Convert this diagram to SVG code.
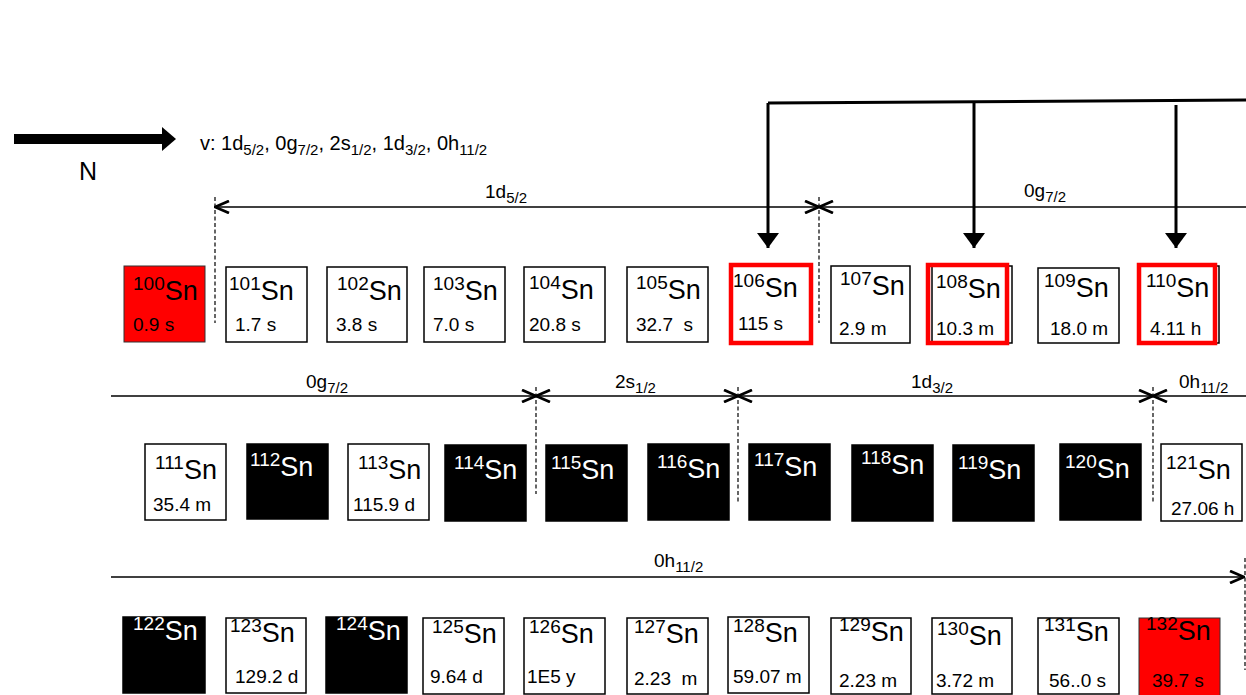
<svg xmlns="http://www.w3.org/2000/svg" width="1246" height="695" viewBox="0 0 1246 695">
<style>
text{font-family:"Liberation Sans",Arial,sans-serif;fill:#000}
.box{fill:#fff;stroke:#000;stroke-width:1.5}
.blk{fill:#000;stroke:#000;stroke-width:1.5}
.red{fill:#ff0000;stroke:#333;stroke-width:1}
.hl{fill:none;stroke:#ff0000;stroke-width:4.5}
.sup{font-size:19px}
.el{font-size:27px}
.t{font-size:19px}
.w text,.w{fill:#fff}
.rng{stroke:#000;stroke-width:1.6;fill:none}
.dash{stroke:#000;stroke-width:1.2;stroke-dasharray:4 2.5;fill:none}
.thk{stroke:#000;stroke-width:3;fill:none}
.lab{font-size:19px}
.sub{font-size:15px}
</style>
<defs>
<marker id="chev" viewBox="0 0 16 14" refX="15" refY="7" markerWidth="16" markerHeight="14" markerUnits="userSpaceOnUse" orient="auto-start-reverse">
<path d="M1,1 L15,7 L1,13" fill="none" stroke="#000" stroke-width="2.8"/>
</marker>
<marker id="tri" viewBox="0 0 15 22" refX="15" refY="11" markerWidth="15" markerHeight="22" markerUnits="userSpaceOnUse" orient="auto">
<path d="M0,0 L15,11 L0,22 z" fill="#000"/>
</marker>
</defs>

<g id="legend">
<rect x="14" y="134" width="150" height="10" fill="#000"/>
<polygon points="162,127 176,139 162,151" fill="#000"/>
<text x="79" y="180" style="font-size:25px">N</text>
<text x="200" y="150" style="font-size:20px">v: 1d<tspan class="sub" dy="5">5/2</tspan><tspan dy="-5">, 0g</tspan><tspan class="sub" dy="5">7/2</tspan><tspan dy="-5">, 2s</tspan><tspan class="sub" dy="5">1/2</tspan><tspan dy="-5">, 1d</tspan><tspan class="sub" dy="5">3/2</tspan><tspan dy="-5">, 0h</tspan><tspan class="sub" dy="5">11/2</tspan></text>
</g>

<g id="connectors">
<path class="thk" d="M768,103 L1246,100"/>
<path class="thk" d="M768,103 L768,248" marker-end="url(#tri)"/>
<path class="thk" d="M974,102 L974,248" marker-end="url(#tri)"/>
<path class="thk" d="M1176,105 L1176,248" marker-end="url(#tri)"/>
<line class="dash" x1="215" y1="197" x2="215" y2="323"/>
<line class="dash" x1="819" y1="197" x2="819" y2="323"/>
<line class="rng" x1="215" y1="207" x2="819" y2="207" marker-start="url(#chev)" marker-end="url(#chev)"/>
<line class="rng" x1="819" y1="207" x2="1246" y2="207" marker-start="url(#chev)"/>
<line class="dash" x1="536" y1="387" x2="536" y2="494"/>
<line class="dash" x1="738" y1="387" x2="738" y2="503"/>
<line class="dash" x1="1153" y1="387" x2="1153" y2="502"/>
<line class="rng" x1="111" y1="396" x2="536" y2="396" marker-end="url(#chev)"/>
<line class="rng" x1="536" y1="396" x2="738" y2="396" marker-start="url(#chev)" marker-end="url(#chev)"/>
<line class="rng" x1="738" y1="396" x2="1153" y2="396" marker-start="url(#chev)" marker-end="url(#chev)"/>
<line class="rng" x1="1153" y1="396" x2="1246" y2="396" marker-start="url(#chev)"/>
<line class="dash" x1="1245" y1="558" x2="1245" y2="670"/>
<line class="rng" x1="111" y1="577" x2="1244" y2="577" marker-end="url(#chev)"/>
</g>

<g id="labels">
<text class="lab" x="485" y="198">1d<tspan class="sub" dy="5">5/2</tspan></text>
<text class="lab" x="1024" y="197">0g<tspan class="sub" dy="5">7/2</tspan></text>
<text class="lab" x="306" y="388">0g<tspan class="sub" dy="5">7/2</tspan></text>
<text class="lab" x="615" y="388">2s<tspan class="sub" dy="5">1/2</tspan></text>
<text class="lab" x="911" y="388">1d<tspan class="sub" dy="5">3/2</tspan></text>
<text class="lab" x="1179" y="388">0h<tspan class="sub" dy="5">11/2</tspan></text>
<text class="lab" x="654" y="567">0h<tspan class="sub" dy="5">11/2</tspan></text>
</g>

<g id="sn100"><rect class="red" x="124" y="266" width="81" height="76"/><text x="133" y="300"><tspan class="sup" dy="-10">100</tspan><tspan class="el" dy="10">Sn</tspan></text><text class="t" x="133" y="331">0.9 s</text></g>
<g id="sn101"><rect class="box" x="226" y="267" width="81" height="75"/><text x="229" y="300"><tspan class="sup" dy="-10">101</tspan><tspan class="el" dy="10">Sn</tspan></text><text class="t" x="235" y="331">1.7 s</text></g>
<g id="sn102"><rect class="box" x="327" y="267" width="80" height="75"/><text x="337" y="300"><tspan class="sup" dy="-10">102</tspan><tspan class="el" dy="10">Sn</tspan></text><text class="t" x="336" y="331">3.8 s</text></g>
<g id="sn103"><rect class="box" x="424" y="267" width="81" height="75"/><text x="433" y="300"><tspan class="sup" dy="-10">103</tspan><tspan class="el" dy="10">Sn</tspan></text><text class="t" x="433" y="331">7.0 s</text></g>
<g id="sn104"><rect class="box" x="524" y="267" width="81" height="75"/><text x="529" y="299"><tspan class="sup" dy="-10">104</tspan><tspan class="el" dy="10">Sn</tspan></text><text class="t" x="529" y="331">20.8 s</text></g>
<g id="sn105"><rect class="box" x="627" y="267" width="81" height="75"/><text x="636" y="299"><tspan class="sup" dy="-10">105</tspan><tspan class="el" dy="10">Sn</tspan></text><text class="t" x="636" y="331" xml:space="preserve">32.7  s</text></g>
<g id="sn106"><rect class="box" x="732" y="266" width="80" height="77"/><rect class="hl" x="731" y="265" width="80" height="78"/><text x="733" y="297"><tspan class="sup" dy="-10">106</tspan><tspan class="el" dy="10">Sn</tspan></text><text class="t" x="738" y="330">115 s</text></g>
<g id="sn107"><rect class="box" x="831" y="266" width="79" height="77"/><text x="840" y="295"><tspan class="sup" dy="-10">107</tspan><tspan class="el" dy="10">Sn</tspan></text><text class="t" x="839" y="335">2.9 m</text></g>
<g id="sn108"><rect class="box" x="932" y="266" width="80" height="77"/><rect class="hl" x="928" y="265" width="79" height="78"/><text x="936" y="298"><tspan class="sup" dy="-10">108</tspan><tspan class="el" dy="10">Sn</tspan></text><text class="t" x="936" y="335">10.3 m</text></g>
<g id="sn109"><rect class="box" x="1038" y="268" width="81" height="75"/><text x="1044" y="297"><tspan class="sup" dy="-10">109</tspan><tspan class="el" dy="10">Sn</tspan></text><text class="t" x="1050" y="335">18.0 m</text></g>
<g id="sn110"><rect class="box" x="1140" y="266" width="79" height="77"/><rect class="hl" x="1139" y="265" width="76" height="78"/><text x="1146" y="297"><tspan class="sup" dy="-10">110</tspan><tspan class="el" dy="10">Sn</tspan></text><text class="t" x="1150" y="335">4.11 h</text></g>

<g id="sn111"><rect class="box" x="145" y="444" width="81" height="76"/><text x="155" y="479"><tspan class="sup" dy="-10">111</tspan><tspan class="el" dy="10">Sn</tspan></text><text class="t" x="153" y="511">35.4 m</text></g>
<g id="sn112" class="w"><rect class="blk" x="247" y="444" width="81" height="75"/><text x="250" y="476"><tspan class="sup" dy="-10">112</tspan><tspan class="el" dy="10">Sn</tspan></text></g>
<g id="sn113"><rect class="box" x="348" y="444" width="81" height="76"/><text x="358" y="479"><tspan class="sup" dy="-10">113</tspan><tspan class="el" dy="10">Sn</tspan></text><text class="t" x="353" y="511">115.9 d</text></g>
<g id="sn114" class="w"><rect class="blk" x="445" y="445" width="81" height="76"/><text x="454" y="479"><tspan class="sup" dy="-10">114</tspan><tspan class="el" dy="10">Sn</tspan></text></g>
<g id="sn115" class="w"><rect class="blk" x="546" y="445" width="81" height="76"/><text x="551" y="479"><tspan class="sup" dy="-10">115</tspan><tspan class="el" dy="10">Sn</tspan></text></g>
<g id="sn116" class="w"><rect class="blk" x="648" y="444" width="81" height="76"/><text x="657" y="478"><tspan class="sup" dy="-10">116</tspan><tspan class="el" dy="10">Sn</tspan></text></g>
<g id="sn117" class="w"><rect class="blk" x="749" y="444" width="81" height="76"/><text x="754" y="476"><tspan class="sup" dy="-10">117</tspan><tspan class="el" dy="10">Sn</tspan></text></g>
<g id="sn118" class="w"><rect class="blk" x="852" y="445" width="81" height="76"/><text x="861" y="474"><tspan class="sup" dy="-10">118</tspan><tspan class="el" dy="10">Sn</tspan></text></g>
<g id="sn119" class="w"><rect class="blk" x="953" y="445" width="81" height="76"/><text x="958" y="479"><tspan class="sup" dy="-10">119</tspan><tspan class="el" dy="10">Sn</tspan></text></g>
<g id="sn120" class="w"><rect class="blk" x="1060" y="444" width="81" height="76"/><text x="1065" y="478"><tspan class="sup" dy="-10">120</tspan><tspan class="el" dy="10">Sn</tspan></text></g>
<g id="sn121"><rect class="box" x="1161" y="444" width="81" height="77"/><text x="1166" y="479"><tspan class="sup" dy="-10">121</tspan><tspan class="el" dy="10">Sn</tspan></text><text class="t" x="1171" y="515">27.06 h</text></g>

<g id="sn122" class="w"><rect class="blk" x="123" y="617" width="82" height="76"/><text x="133" y="640"><tspan class="sup" dy="-10">122</tspan><tspan class="el" dy="10">Sn</tspan></text></g>
<g id="sn123"><rect class="box" x="226" y="618" width="80" height="75"/><text x="230" y="642"><tspan class="sup" dy="-10">123</tspan><tspan class="el" dy="10">Sn</tspan></text><text class="t" x="235" y="683">129.2 d</text></g>
<g id="sn124" class="w"><rect class="blk" x="326" y="617" width="81" height="76"/><text x="336" y="640"><tspan class="sup" dy="-10">124</tspan><tspan class="el" dy="10">Sn</tspan></text></g>
<g id="sn125"><rect class="box" x="423" y="618" width="81" height="76"/><text x="432" y="643"><tspan class="sup" dy="-10">125</tspan><tspan class="el" dy="10">Sn</tspan></text><text class="t" x="430" y="683">9.64 d</text></g>
<g id="sn126"><rect class="box" x="524" y="618" width="81" height="76"/><text x="529" y="643"><tspan class="sup" dy="-10">126</tspan><tspan class="el" dy="10">Sn</tspan></text><text class="t" x="527" y="683">1E5 y</text></g>
<g id="sn127"><rect class="box" x="627" y="618" width="81" height="76"/><text x="634" y="643"><tspan class="sup" dy="-10">127</tspan><tspan class="el" dy="10">Sn</tspan></text><text class="t" x="634" y="685" xml:space="preserve">2.23  m</text></g>
<g id="sn128"><rect class="box" x="728" y="617" width="81" height="76"/><text x="733" y="642"><tspan class="sup" dy="-10">128</tspan><tspan class="el" dy="10">Sn</tspan></text><text class="t" x="733" y="683">59.07 m</text></g>
<g id="sn129"><rect class="box" x="831" y="618" width="80" height="76"/><text x="839" y="641"><tspan class="sup" dy="-10">129</tspan><tspan class="el" dy="10">Sn</tspan></text><text class="t" x="839" y="687">2.23 m</text></g>
<g id="sn130"><rect class="box" x="932" y="618" width="80" height="76"/><text x="937" y="645"><tspan class="sup" dy="-10">130</tspan><tspan class="el" dy="10">Sn</tspan></text><text class="t" x="936" y="687">3.72 m</text></g>
<g id="sn131"><rect class="box" x="1038" y="618" width="81" height="76"/><text x="1044" y="641"><tspan class="sup" dy="-10">131</tspan><tspan class="el" dy="10">Sn</tspan></text><text class="t" x="1049" y="687">56..0 s</text></g>
<g id="sn132"><rect class="red" x="1139" y="618" width="81" height="78"/><text x="1146" y="640"><tspan class="sup" dy="-10">132</tspan><tspan class="el" dy="10">Sn</tspan></text><text class="t" x="1152" y="687">39.7 s</text></g>
</svg>
